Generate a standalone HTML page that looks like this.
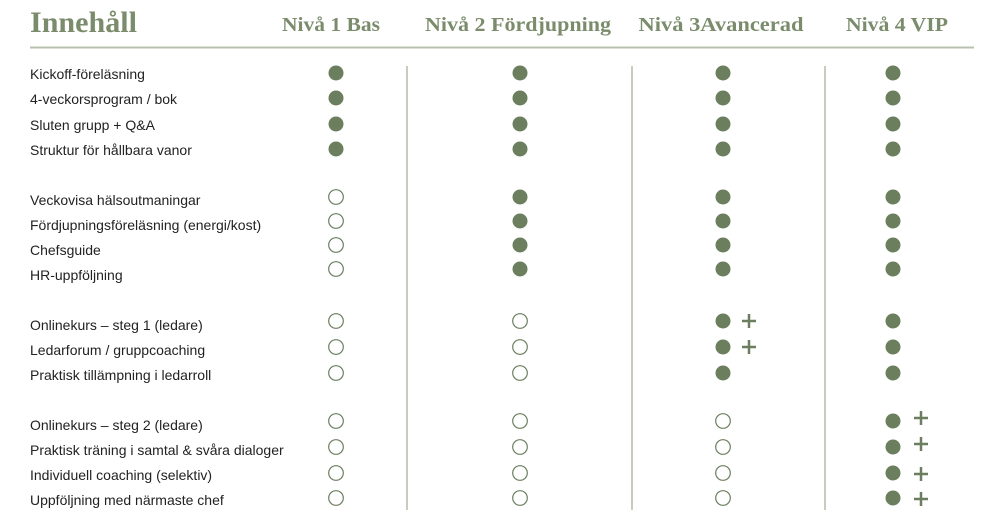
<!DOCTYPE html>
<html><head><meta charset="utf-8"><style>
html,body{margin:0;padding:0;background:#fff;}
</style></head><body>
<svg width="1000" height="514" viewBox="0 0 1000 514" xmlns="http://www.w3.org/2000/svg">
<g font-family="Liberation Serif, serif" font-weight="bold" fill="#7b8c6c">
<text x="30" y="32" font-size="30" textLength="107" lengthAdjust="spacingAndGlyphs">Innehåll</text>
<text x="331" y="31" font-size="20" text-anchor="middle" textLength="98" lengthAdjust="spacingAndGlyphs">Nivå 1 Bas</text>
<text x="518" y="31" font-size="20" text-anchor="middle" textLength="186" lengthAdjust="spacingAndGlyphs">Nivå 2 Fördjupning</text>
<text x="721" y="31" font-size="20" text-anchor="middle" textLength="165" lengthAdjust="spacingAndGlyphs">Nivå 3Avancerad</text>
<text x="897" y="31" font-size="20" text-anchor="middle" textLength="102" lengthAdjust="spacingAndGlyphs">Nivå 4 VIP</text>
</g>
<line x1="30" y1="47.5" x2="974" y2="47.5" stroke="#b9c2ae" stroke-width="2"/>
<g stroke="#a8b09c" stroke-width="1.3">
<line x1="407" y1="66" x2="407" y2="510"/>
<line x1="632" y1="66" x2="632" y2="510"/>
<line x1="825" y1="66" x2="825" y2="510"/>
</g>
<g font-family="Liberation Sans, sans-serif" font-size="14" fill="#222">
<text x="30" y="79">Kickoff-föreläsning</text>
<text x="30" y="104">4-veckorsprogram / bok</text>
<text x="30" y="130">Sluten grupp + Q&amp;A</text>
<text x="30" y="155">Struktur för hållbara vanor</text>
<text x="30" y="205">Veckovisa hälsoutmaningar</text>
<text x="30" y="230">Fördjupningsföreläsning (energi/kost)</text>
<text x="30" y="255">Chefsguide</text>
<text x="30" y="280">HR-uppföljning</text>
<text x="30" y="330">Onlinekurs – steg 1 (ledare)</text>
<text x="30" y="355">Ledarforum / gruppcoaching</text>
<text x="30" y="380">Praktisk tillämpning i ledarroll</text>
<text x="30" y="430">Onlinekurs – steg 2 (ledare)</text>
<text x="30" y="455">Praktisk träning i samtal &amp; svåra dialoger</text>
<text x="30" y="480">Individuell coaching (selektiv)</text>
<text x="30" y="505">Uppföljning med närmaste chef</text>
</g>
<g stroke="#6b7f5e" stroke-width="2.5" fill="none">
<path d="M742 321h14M749 314v14"/>
<path d="M742 347h14M749 340v14"/>
<path d="M914 418h14M921 411v14"/>
<path d="M914 444h14M921 437v14"/>
<path d="M914 474h14M921 467v14"/>
<path d="M914 499h14M921 492v14"/>
</g>
<g fill="#6b7f5e">
<circle cx="336" cy="73" r="7.5"/><circle cx="520" cy="73" r="7.5"/><circle cx="723" cy="73" r="7.5"/><circle cx="893" cy="73" r="7.5"/>
<circle cx="336" cy="98" r="7.5"/><circle cx="520" cy="98" r="7.5"/><circle cx="723" cy="98" r="7.5"/><circle cx="893" cy="98" r="7.5"/>
<circle cx="336" cy="124" r="7.5"/><circle cx="520" cy="124" r="7.5"/><circle cx="723" cy="124" r="7.5"/><circle cx="893" cy="124" r="7.5"/>
<circle cx="336" cy="149" r="7.5"/><circle cx="520" cy="149" r="7.5"/><circle cx="723" cy="149" r="7.5"/><circle cx="893" cy="149" r="7.5"/>
<circle cx="520" cy="197" r="7.5"/><circle cx="723" cy="197" r="7.5"/><circle cx="893" cy="197" r="7.5"/>
<circle cx="520" cy="221" r="7.5"/><circle cx="723" cy="221" r="7.5"/><circle cx="893" cy="221" r="7.5"/>
<circle cx="520" cy="245" r="7.5"/><circle cx="723" cy="245" r="7.5"/><circle cx="893" cy="245" r="7.5"/>
<circle cx="520" cy="269" r="7.5"/><circle cx="723" cy="269" r="7.5"/><circle cx="893" cy="269" r="7.5"/>
<circle cx="723" cy="321" r="7.5"/><circle cx="893" cy="321" r="7.5"/>
<circle cx="723" cy="347" r="7.5"/><circle cx="893" cy="347" r="7.5"/>
<circle cx="723" cy="373" r="7.5"/><circle cx="893" cy="373" r="7.5"/>
<circle cx="893" cy="421" r="7.5"/><circle cx="893" cy="447" r="7.5"/><circle cx="893" cy="473" r="7.5"/><circle cx="893" cy="498" r="7.5"/>
</g>
<g fill="none" stroke="#6b7f5e" stroke-width="1.2">
<circle cx="336" cy="197" r="7.3"/><circle cx="336" cy="221" r="7.3"/><circle cx="336" cy="245" r="7.3"/><circle cx="336" cy="269" r="7.3"/>
<circle cx="336" cy="321" r="7.3"/><circle cx="336" cy="347" r="7.3"/><circle cx="336" cy="373" r="7.3"/>
<circle cx="520" cy="321" r="7.3"/><circle cx="520" cy="347" r="7.3"/><circle cx="520" cy="373" r="7.3"/>
<circle cx="336" cy="421" r="7.3"/><circle cx="336" cy="447" r="7.3"/><circle cx="336" cy="473" r="7.3"/><circle cx="336" cy="498" r="7.3"/>
<circle cx="520" cy="421" r="7.3"/><circle cx="520" cy="447" r="7.3"/><circle cx="520" cy="473" r="7.3"/><circle cx="520" cy="498" r="7.3"/>
<circle cx="723" cy="421" r="7.3"/><circle cx="723" cy="447" r="7.3"/><circle cx="723" cy="473" r="7.3"/><circle cx="723" cy="498" r="7.3"/>
</g>
</svg>
</body></html>
